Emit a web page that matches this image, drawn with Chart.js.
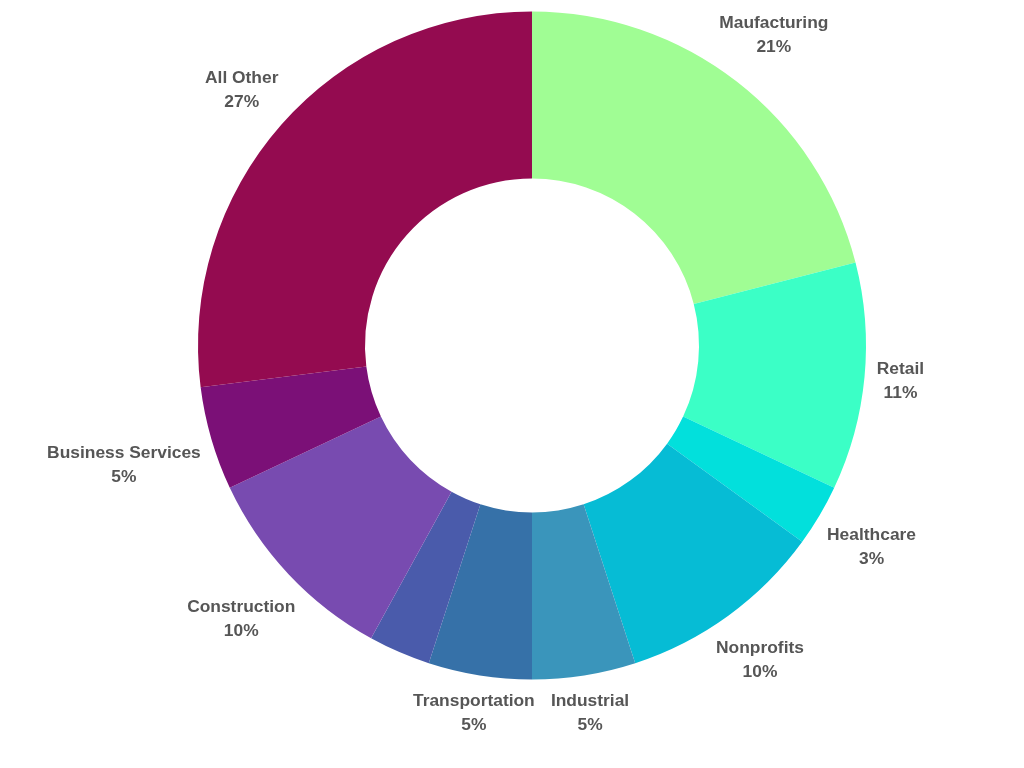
<!DOCTYPE html>
<html>
<head>
<meta charset="utf-8">
<script src="https://cdn.jsdelivr.net/npm/chart.js@4/dist/chart.umd.min.js"></script>
<style>
  body { margin: 0; background: #fff; }
  #wrap { width: 1024px; height: 768px; }
</style>
</head>
<body>
<div id="wrap"><canvas id="industryChart" width="1024" height="768"></canvas></div>
<script>
var categories = ['Maufacturing', 'Retail', 'Healthcare', 'Nonprofits', 'Industrial', 'Transportation', '', 'Construction', 'Business Services', 'All Other'];
var shares = [21, 11, 3, 10, 5, 5, 3, 10, 5, 27];
var sliceColors = ['#a0fd94', '#3bffc6', '#02e0dc', '#06bcd5', '#3a95bb', '#3671a8', '#4a5bab', '#784bb0', '#7b1077', '#940b50'];

// draws "name / pct" outside each slice, nudged out until the text box clears the ring
var outsideLabels = {
  id: 'outsideLabels',
  afterDatasetsDraw: function(chart){
    var ctx = chart.ctx;
    var meta = chart.getDatasetMeta(0);
    var data = chart.data.datasets[0].data;
    var total = data.reduce(function(a, b){ return a + b; }, 0);
    var lineGap = 24, halfH = 22, gap = 11;

    ctx.save();
    ctx.font = 'bold 17.4px "Liberation Sans", Arial, sans-serif';
    ctx.fillStyle = '#565656';
    ctx.textAlign = 'center';
    ctx.textBaseline = 'middle';

    meta.data.forEach(function(arc, i){
      var name = chart.data.labels[i];
      if(!name) return;
      var p = arc.getProps(['x', 'y', 'startAngle', 'endAngle', 'outerRadius'], true);
      var mid = (p.startAngle + p.endAngle) / 2;
      var pct = Math.round(data[i] / total * 100) + '%';
      var halfW = Math.max(ctx.measureText(name).width, ctx.measureText(pct).width) / 2;
      var target = p.outerRadius + gap;
      var c = Math.cos(mid), s = Math.sin(mid);

      var lo = p.outerRadius, hi = p.outerRadius + 400;
      for(var k = 0; k < 40; k++){
        var d = (lo + hi) / 2;
        var nx = Math.max(Math.abs(d * c) - halfW, 0);
        var ny = Math.max(Math.abs(d * s) - halfH, 0);
        if(Math.hypot(nx, ny) < target) lo = d; else hi = d;
      }
      var cx = p.x + lo * c, cy = p.y + lo * s + 1;
      ctx.fillText(name, cx, cy - lineGap / 2);
      ctx.fillText(pct, cx, cy + lineGap / 2);
    });
    ctx.restore();
  }
};

var chart = new Chart(document.getElementById('industryChart').getContext('2d'), {
  type: 'doughnut',
  data: {
    labels: categories,
    datasets: [{ data: shares, backgroundColor: sliceColors, borderWidth: 0 }]
  },
  options: {
    responsive: false,
    animation: false,
    cutout: '50%',
    layout: { padding: { left: 198, right: 158, top: 11, bottom: 88 } },
    plugins: { legend: { display: false }, tooltip: { enabled: false } }
  },
  plugins: [outsideLabels]
});
</script>
</body>
</html>
